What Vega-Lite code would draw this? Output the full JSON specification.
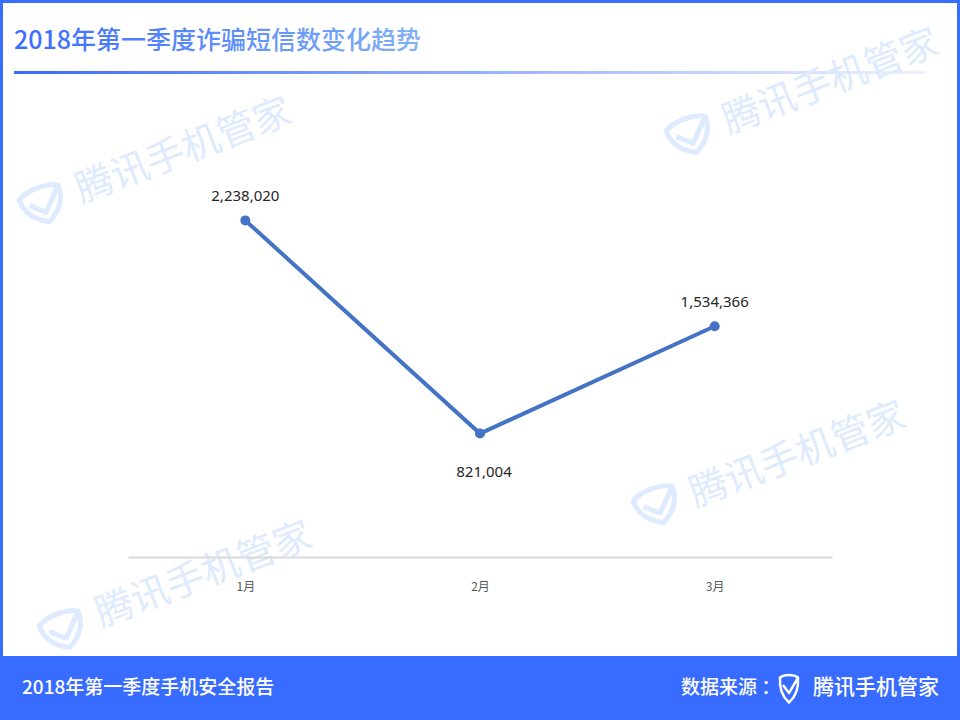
{
  "$schema": "https://vega.github.io/schema/vega-lite/v6.json",
  "width": 704,
  "height": 376,
  "autosize": {"type": "none"},
  "padding": {"left": 128, "top": 181, "right": 128, "bottom": 163},
  "background": "#386bff",
  "config": {"view": {"stroke": null}},
  "data": {"values": [
    {"month": "1月", "value": 2238020},
    {"month": "2月", "value": 821004},
    {"month": "3月", "value": 1534366}
  ]},
  "layer": [
    {"data": {"values": [{}]}, "mark": {"type": "rect", "color": "#ffffff"},
     "encoding": {"x": {"value": -125}, "x2": {"value": 829}, "y": {"value": -178}, "y2": {"value": 475}}},
    {"data": {"values": [{}]}, "mark": {"type": "rect", "color": {"gradient": "linear", "stops": [{"offset": 0, "color": "#3a6bff"}, {"offset": 1, "color": "#eef2ff"}]}},
     "encoding": {"x": {"value": -114}, "x2": {"value": 797}, "y": {"value": -110}, "y2": {"value": -107}}},
    {"data": {"values": [{}]}, "mark": {"type": "text", "text": "2018年第一季度诈骗短信数变化趋势", "align": "left", "baseline": "middle", "font": "Noto Sans CJK SC", "fontSize": 25, "fontWeight": 500,
      "color": {"gradient": "linear", "stops": [{"offset": 0, "color": "#3a6bff"}, {"offset": 1, "color": "#80b0f5"}]}},
     "encoding": {"x": {"value": -114}, "y": {"value": -140}}},
    {"data": {"values": [{}]}, "mark": {"type": "text", "text": "腾讯手机管家", "align": "center", "baseline": "middle", "font": "Noto Sans CJK SC", "fontSize": 38, "angle": -21, "color": "#deeafd"},
     "encoding": {"x": {"value": 56}, "y": {"value": -29}}},
    {"data": {"values": [{}]}, "mark": {"type": "text", "text": "腾讯手机管家", "align": "center", "baseline": "middle", "font": "Noto Sans CJK SC", "fontSize": 38, "angle": -21, "color": "#deeafd"},
     "encoding": {"x": {"value": 703}, "y": {"value": -98}}},
    {"data": {"values": [{}]}, "mark": {"type": "text", "text": "腾讯手机管家", "align": "center", "baseline": "middle", "font": "Noto Sans CJK SC", "fontSize": 38, "angle": -21, "color": "#deeafd"},
     "encoding": {"x": {"value": 670}, "y": {"value": 275}}},
    {"data": {"values": [{}]}, "mark": {"type": "text", "text": "腾讯手机管家", "align": "center", "baseline": "middle", "font": "Noto Sans CJK SC", "fontSize": 38, "angle": -21, "color": "#deeafd"},
     "encoding": {"x": {"value": 76}, "y": {"value": 395}}},
    {"data": {"values": [{}]}, "mark": {"type": "point", "filled": false, "shape": "M-0.95,-0.55 C-0.5,-0.85 0.5,-0.85 0.95,-0.55 C0.95,0.2 0.5,0.6 0,0.85 C-0.5,0.6 -0.95,0.2 -0.95,-0.55 Z M-0.6,-0.15 L0,0.4 L0.95,-0.55", "size": 1936, "angle": -21, "stroke": "#deeafd", "strokeWidth": 5, "strokeJoin": "round", "opacity": 1},
     "encoding": {"x": {"value": -85}, "y": {"value": 23}}},
    {"data": {"values": [{}]}, "mark": {"type": "point", "filled": false, "shape": "M-0.95,-0.55 C-0.5,-0.85 0.5,-0.85 0.95,-0.55 C0.95,0.2 0.5,0.6 0,0.85 C-0.5,0.6 -0.95,0.2 -0.95,-0.55 Z M-0.6,-0.15 L0,0.4 L0.95,-0.55", "size": 1936, "angle": -21, "stroke": "#deeafd", "strokeWidth": 5, "strokeJoin": "round", "opacity": 1},
     "encoding": {"x": {"value": 562}, "y": {"value": -46}}},
    {"data": {"values": [{}]}, "mark": {"type": "point", "filled": false, "shape": "M-0.95,-0.55 C-0.5,-0.85 0.5,-0.85 0.95,-0.55 C0.95,0.2 0.5,0.6 0,0.85 C-0.5,0.6 -0.95,0.2 -0.95,-0.55 Z M-0.6,-0.15 L0,0.4 L0.95,-0.55", "size": 1936, "angle": -21, "stroke": "#deeafd", "strokeWidth": 5, "strokeJoin": "round", "opacity": 1},
     "encoding": {"x": {"value": 529}, "y": {"value": 324}}},
    {"data": {"values": [{}]}, "mark": {"type": "point", "filled": false, "shape": "M-0.95,-0.55 C-0.5,-0.85 0.5,-0.85 0.95,-0.55 C0.95,0.2 0.5,0.6 0,0.85 C-0.5,0.6 -0.95,0.2 -0.95,-0.55 Z M-0.6,-0.15 L0,0.4 L0.95,-0.55", "size": 1936, "angle": -21, "stroke": "#deeafd", "strokeWidth": 5, "strokeJoin": "round", "opacity": 1},
     "encoding": {"x": {"value": -65}, "y": {"value": 449}}},
    {"mark": {"type": "line", "color": "#4472c4", "strokeWidth": 4},
     "encoding": {
       "x": {"field": "month", "type": "ordinal", "axis": {"title": null, "labelAngle": 0, "ticks": false, "domainColor": "#d9d9d9", "domainWidth": 2, "labelColor": "#595959", "labelFontSize": 12, "labelPadding": 24, "labelFont": "Noto Sans CJK SC", "zindex": 1}},
       "y": {"field": "value", "type": "quantitative", "scale": {"domain": [0, 2500000], "nice": false, "zero": true}, "axis": null}
     }},
    {"mark": {"type": "point", "filled": true, "size": 100, "color": "#4472c4", "opacity": 1},
     "encoding": {"x": {"field": "month", "type": "ordinal"}, "y": {"field": "value", "type": "quantitative"}}},
    {"transform": [{"filter": "datum.month != '2月'"}],
     "mark": {"type": "text", "dy": -24, "baseline": "middle", "font": "Noto Sans", "fontSize": 15, "color": "#262626"},
     "encoding": {"x": {"field": "month", "type": "ordinal"}, "y": {"field": "value", "type": "quantitative"}, "text": {"field": "value", "type": "quantitative", "format": ","}}},
    {"transform": [{"filter": "datum.month == '2月'"}],
     "mark": {"type": "text", "dy": 38, "dx": 4, "baseline": "middle", "font": "Noto Sans", "fontSize": 15, "color": "#262626"},
     "encoding": {"x": {"field": "month", "type": "ordinal"}, "y": {"field": "value", "type": "quantitative"}, "text": {"field": "value", "type": "quantitative", "format": ","}}},
    {"data": {"values": [{}]}, "mark": {"type": "text", "text": "2018年第一季度手机安全报告", "align": "left", "baseline": "middle", "font": "Noto Sans CJK SC", "fontSize": 19, "fontWeight": 500, "color": "#ffffff"},
     "encoding": {"x": {"value": -106}, "y": {"value": 507}}},
    {"data": {"values": [{}]}, "mark": {"type": "text", "text": "数据来源 ：", "align": "left", "baseline": "middle", "font": "Noto Sans CJK SC", "fontSize": 19, "fontWeight": 500, "color": "#ffffff"},
     "encoding": {"x": {"value": 553}, "y": {"value": 507}}},
    {"data": {"values": [{}]}, "mark": {"type": "point", "filled": false, "shape": "M-0.62,-0.72 C-0.3,-0.95 0.3,-0.95 0.62,-0.72 C0.68,0.1 0.4,0.65 0,1 C-0.4,0.65 -0.68,0.1 -0.62,-0.72 Z M-0.42,-0.2 L0,0.35 L0.62,-0.72", "size": 841, "stroke": "#ffffff", "strokeWidth": 2.5, "strokeJoin": "round", "opacity": 1},
     "encoding": {"x": {"value": 661}, "y": {"value": 507}}},
    {"data": {"values": [{}]}, "mark": {"type": "text", "text": "腾讯手机管家", "align": "left", "baseline": "middle", "font": "Noto Sans CJK SC", "fontSize": 21, "fontWeight": 500, "color": "#ffffff"},
     "encoding": {"x": {"value": 685}, "y": {"value": 507}}}
  ]
}
